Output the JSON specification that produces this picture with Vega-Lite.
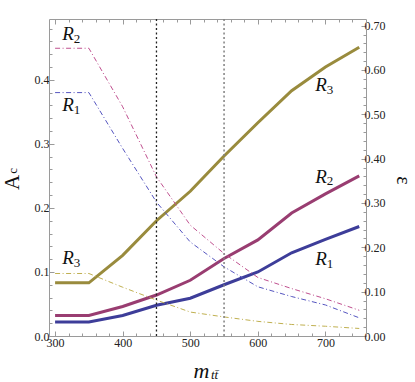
{
  "$schema": "https://vega.github.io/schema/vega-lite/v6.json",
  "width": 317,
  "height": 317,
  "autosize": {"type": "none"},
  "padding": {"left": 49, "top": 19, "right": 49, "bottom": 46},
  "config": {
    "view": {"stroke": null},
    "axis": {
      "domainColor": "#9a9a9a",
      "tickColor": "#9a9a9a",
      "grid": false,
      "labelFont": "Liberation Serif",
      "labelFontSize": 12,
      "labelColor": "#222222",
      "labelFlush": false,
      "labelOverlap": false,
      "titleFont": "Liberation Serif",
      "titleFontWeight": "normal",
      "titleColor": "#111111"
    }
  },
  "datasets": {
    "ac": [
      {"m": 300, "region": "R1", "Ac": 0.022}, {"m": 350, "region": "R1", "Ac": 0.022},
      {"m": 400, "region": "R1", "Ac": 0.032}, {"m": 450, "region": "R1", "Ac": 0.048},
      {"m": 500, "region": "R1", "Ac": 0.059}, {"m": 550, "region": "R1", "Ac": 0.080},
      {"m": 600, "region": "R1", "Ac": 0.100}, {"m": 650, "region": "R1", "Ac": 0.130},
      {"m": 700, "region": "R1", "Ac": 0.151}, {"m": 750, "region": "R1", "Ac": 0.171},
      {"m": 300, "region": "R2", "Ac": 0.032}, {"m": 350, "region": "R2", "Ac": 0.032},
      {"m": 400, "region": "R2", "Ac": 0.046}, {"m": 450, "region": "R2", "Ac": 0.064},
      {"m": 500, "region": "R2", "Ac": 0.087}, {"m": 550, "region": "R2", "Ac": 0.121},
      {"m": 600, "region": "R2", "Ac": 0.150}, {"m": 650, "region": "R2", "Ac": 0.192},
      {"m": 700, "region": "R2", "Ac": 0.222}, {"m": 750, "region": "R2", "Ac": 0.250},
      {"m": 300, "region": "R3", "Ac": 0.083}, {"m": 350, "region": "R3", "Ac": 0.083},
      {"m": 400, "region": "R3", "Ac": 0.126}, {"m": 450, "region": "R3", "Ac": 0.180},
      {"m": 500, "region": "R3", "Ac": 0.226}, {"m": 550, "region": "R3", "Ac": 0.281},
      {"m": 600, "region": "R3", "Ac": 0.333}, {"m": 650, "region": "R3", "Ac": 0.383},
      {"m": 700, "region": "R3", "Ac": 0.420}, {"m": 750, "region": "R3", "Ac": 0.451}
    ],
    "eps": [
      {"m": 300, "region": "R1", "eps": 0.549}, {"m": 350, "region": "R1", "eps": 0.549},
      {"m": 400, "region": "R1", "eps": 0.423}, {"m": 450, "region": "R1", "eps": 0.302},
      {"m": 500, "region": "R1", "eps": 0.212}, {"m": 550, "region": "R1", "eps": 0.156},
      {"m": 600, "region": "R1", "eps": 0.111}, {"m": 650, "region": "R1", "eps": 0.089},
      {"m": 700, "region": "R1", "eps": 0.070}, {"m": 750, "region": "R1", "eps": 0.041},
      {"m": 300, "region": "R2", "eps": 0.649}, {"m": 350, "region": "R2", "eps": 0.649},
      {"m": 400, "region": "R2", "eps": 0.517}, {"m": 450, "region": "R2", "eps": 0.359},
      {"m": 500, "region": "R2", "eps": 0.250}, {"m": 550, "region": "R2", "eps": 0.186},
      {"m": 600, "region": "R2", "eps": 0.132}, {"m": 650, "region": "R2", "eps": 0.107},
      {"m": 700, "region": "R2", "eps": 0.084}, {"m": 750, "region": "R2", "eps": 0.058},
      {"m": 300, "region": "R3", "eps": 0.141}, {"m": 350, "region": "R3", "eps": 0.141},
      {"m": 400, "region": "R3", "eps": 0.110}, {"m": 450, "region": "R3", "eps": 0.081},
      {"m": 500, "region": "R3", "eps": 0.054}, {"m": 550, "region": "R3", "eps": 0.043},
      {"m": 600, "region": "R3", "eps": 0.033}, {"m": 650, "region": "R3", "eps": 0.026},
      {"m": 700, "region": "R3", "eps": 0.022}, {"m": 750, "region": "R3", "eps": 0.017}
    ],
    "cuts": [{"m": 450, "cut": "a"}, {"m": 550, "cut": "b"}],
    "labels": [
      {"m": 319.1, "Ac": 0.4716, "text": "R", "kind": "main"},
      {"m": 332.4, "Ac": 0.4638, "text": "2", "kind": "sub"},
      {"m": 319.1, "Ac": 0.3607, "text": "R", "kind": "main"},
      {"m": 332.4, "Ac": 0.3529, "text": "1", "kind": "sub"},
      {"m": 319.1, "Ac": 0.1218, "text": "R", "kind": "main"},
      {"m": 332.4, "Ac": 0.1140, "text": "3", "kind": "sub"},
      {"m": 693.4, "Ac": 0.3920, "text": "R", "kind": "main"},
      {"m": 706.7, "Ac": 0.3840, "text": "3", "kind": "sub"},
      {"m": 693.4, "Ac": 0.2490, "text": "R", "kind": "main"},
      {"m": 706.7, "Ac": 0.2420, "text": "2", "kind": "sub"},
      {"m": 693.4, "Ac": 0.1200, "text": "R", "kind": "main"},
      {"m": 706.7, "Ac": 0.1124, "text": "1", "kind": "sub"},
      {"m": 535.9, "Ac": -0.0609, "text": "tt̄", "kind": "xsub"},
      {"m": 238.0, "Ac": 0.2577, "text": "c", "kind": "ysub"}
    ]
  },
  "resolve": {"scale": {"y": "independent", "color": "independent"}},
  "layer": [
    {
      "data": {"name": "ac"},
      "mark": {"type": "line", "strokeWidth": 3},
      "encoding": {
        "x": {
          "field": "m", "type": "quantitative",
          "scale": {"domain": [291, 760], "nice": false, "zero": false},
          "axis": {
            "orient": "bottom",
            "title": "m",
            "titleFontSize": 22,
            "titleFontStyle": "italic",
            "titleX": 152,
            "titleY": 34,
            "titleAlign": "center",
            "titleBaseline": "middle",
            "titleAngle": 0,
            "values": [300,320,340,360,380,400,420,440,460,480,500,520,540,560,580,600,620,640,660,680,700,720,740],
            "labelExpr": "datum.value % 100 === 0 ? datum.label : ''",
            "labelPadding": 6,
            "tickSize": {"condition": {"test": "datum.value % 100 === 0", "value": -5}, "value": -3}
          }
        },
        "y": {
          "field": "Ac", "type": "quantitative",
          "scale": {"domain": [0, 0.495], "nice": false},
          "axis": {
            "orient": "left",
            "title": "A",
            "titleFontSize": 21,
            "titleAngle": 270,
            "titleX": -37,
            "titleY": 163,
            "titleAlign": "center",
            "titleBaseline": "middle",
            "values": [0,0.02,0.04,0.06,0.08,0.1,0.12,0.14,0.16,0.18,0.2,0.22,0.24,0.26,0.28,0.3,0.32,0.34,0.36,0.38,0.4,0.42,0.44,0.46,0.48],
            "format": ".1f",
            "labelExpr": "abs(datum.value*10 - round(datum.value*10)) < 0.001 ? datum.label : ''",
            "labelPadding": 5,
            "tickSize": {"condition": {"test": "abs(datum.value*10 - round(datum.value*10)) < 0.001", "value": -5}, "value": -3}
          }
        },
        "color": {
          "field": "region", "type": "nominal",
          "scale": {"domain": ["R1", "R2", "R3"], "range": ["#3d3d99", "#993d71", "#998b3d"]},
          "legend": null
        }
      }
    },
    {
      "data": {"name": "eps"},
      "mark": {"type": "line", "strokeWidth": 1, "strokeDash": [5, 2.5, 1, 2.5]},
      "encoding": {
        "x": {
          "field": "m", "type": "quantitative",
          "scale": {"domain": [291, 760], "nice": false, "zero": false},
          "axis": {
            "orient": "top",
            "title": null,
            "values": [300,320,340,360,380,400,420,440,460,480,500,520,540,560,580,600,620,640,660,680,700,720,740],
            "labels": false,
            "tickSize": {"condition": {"test": "datum.value % 100 === 0", "value": -5}, "value": -3}
          }
        },
        "y": {
          "field": "eps", "type": "quantitative",
          "scale": {"domain": [0, 0.715], "nice": false},
          "axis": {
            "orient": "right",
            "title": "ε",
            "titleFontSize": 20,
            "titleAngle": 90,
            "titleX": 36,
            "titleY": 161,
            "titleAlign": "center",
            "titleBaseline": "middle",
            "values": [0,0.02,0.04,0.06,0.08,0.1,0.12,0.14,0.16,0.18,0.2,0.22,0.24,0.26,0.28,0.3,0.32,0.34,0.36,0.38,0.4,0.42,0.44,0.46,0.48,0.5,0.52,0.54,0.56,0.58,0.6,0.62,0.64,0.66,0.68,0.7],
            "format": ".2f",
            "labelExpr": "abs(datum.value*10 - round(datum.value*10)) < 0.001 ? datum.label : ''",
            "labelPadding": 3,
            "tickSize": {"condition": {"test": "abs(datum.value*10 - round(datum.value*10)) < 0.001", "value": -5}, "value": -3}
          }
        },
        "color": {
          "field": "region", "type": "nominal",
          "scale": {"domain": ["R1", "R2", "R3"], "range": ["#5555c0", "#c0508f", "#c0b050"]},
          "legend": null
        }
      }
    },
    {
      "data": {"name": "cuts"},
      "transform": [{"filter": "datum.cut === 'a'"}],
      "mark": {"type": "rule", "strokeDash": [2, 2.5], "strokeWidth": 1.3, "color": "#222222"},
      "encoding": {
        "x": {"field": "m", "type": "quantitative", "axis": null, "scale": {"domain": [291, 760], "nice": false, "zero": false}}
      }
    },
    {
      "data": {"name": "cuts"},
      "transform": [{"filter": "datum.cut === 'b'"}],
      "mark": {"type": "rule", "strokeDash": [2, 2.5], "strokeWidth": 1.5, "color": "#808080"},
      "encoding": {
        "x": {"field": "m", "type": "quantitative", "axis": null, "scale": {"domain": [291, 760], "nice": false, "zero": false}}
      }
    },
    {
      "data": {"name": "labels"},
      "transform": [{"filter": "datum.kind === 'main'"}],
      "mark": {"type": "text", "font": "Liberation Serif", "fontStyle": "italic", "fontSize": 19, "align": "center", "baseline": "middle", "color": "#111111"},
      "encoding": {
        "x": {"field": "m", "type": "quantitative", "axis": null, "scale": {"domain": [291, 760], "nice": false, "zero": false}},
        "y": {"field": "Ac", "type": "quantitative", "axis": null, "scale": {"domain": [0, 0.495], "nice": false}},
        "text": {"field": "text"}
      }
    },
    {
      "data": {"name": "labels"},
      "transform": [{"filter": "datum.kind === 'sub'"}],
      "mark": {"type": "text", "font": "Liberation Serif", "fontSize": 13, "align": "center", "baseline": "middle", "color": "#111111"},
      "encoding": {
        "x": {"field": "m", "type": "quantitative", "axis": null, "scale": {"domain": [291, 760], "nice": false, "zero": false}},
        "y": {"field": "Ac", "type": "quantitative", "axis": null, "scale": {"domain": [0, 0.495], "nice": false}},
        "text": {"field": "text"}
      }
    },
    {
      "data": {"name": "labels"},
      "transform": [{"filter": "datum.kind === 'xsub'"}],
      "mark": {"type": "text", "font": "Liberation Serif", "fontStyle": "italic", "fontSize": 13, "align": "center", "baseline": "middle", "color": "#111111"},
      "encoding": {
        "x": {"field": "m", "type": "quantitative", "axis": null, "scale": {"domain": [291, 760], "nice": false, "zero": false}},
        "y": {"field": "Ac", "type": "quantitative", "axis": null, "scale": {"domain": [0, 0.495], "nice": false}},
        "text": {"field": "text"}
      }
    },
    {
      "data": {"name": "labels"},
      "transform": [{"filter": "datum.kind === 'ysub'"}],
      "mark": {"type": "text", "font": "Liberation Serif", "fontSize": 13, "angle": 270, "align": "center", "baseline": "middle", "color": "#111111"},
      "encoding": {
        "x": {"field": "m", "type": "quantitative", "axis": null, "scale": {"domain": [291, 760], "nice": false, "zero": false}},
        "y": {"field": "Ac", "type": "quantitative", "axis": null, "scale": {"domain": [0, 0.495], "nice": false}},
        "text": {"field": "text"}
      }
    }
  ]
}
